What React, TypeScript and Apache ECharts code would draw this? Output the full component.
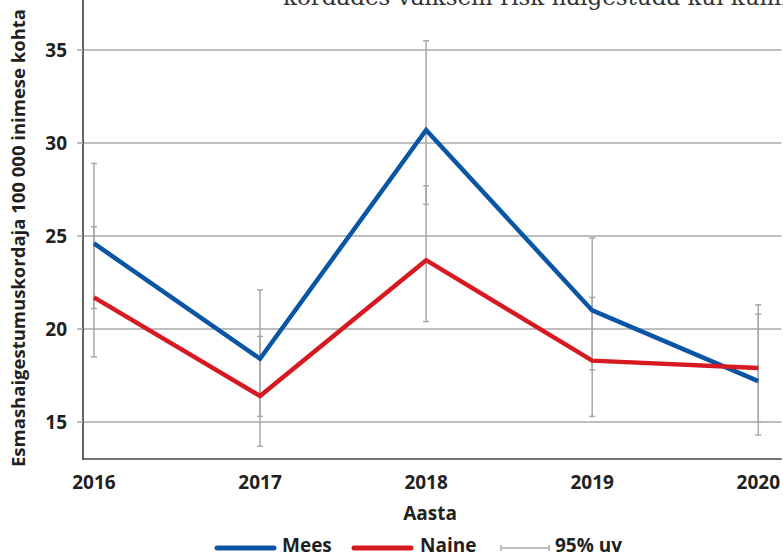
import React, { useEffect, useRef } from "react";
import * as echarts from "echarts";

const years = [2016, 2017, 2018, 2019, 2020];
const meesValues = [24.6, 18.4, 30.7, 21.0, 17.2];
const naineValues = [21.7, 16.4, 23.7, 18.3, 17.9];
const meesLow = [21.1, 15.3, 26.7, 17.8, 14.3];
const meesHigh = [28.9, 22.1, 35.5, 24.9, 20.8];
const naineLow = [18.5, 13.7, 20.4, 15.3, 15.0];
const naineHigh = [25.5, 19.6, 27.7, 21.7, 21.3];
const yTicks = [15, 20, 25, 30, 35];

const BLUE = "#0a56a5";
const RED = "#d71a21";
const GRAY = "#a8a8a8";
const TEXT = "#231f20";
const SANS = "'Open Sans', 'Noto Sans', sans-serif";

export default function App() {
  const ref = useRef<HTMLDivElement>(null);
  useEffect(() => {
    if (!ref.current) return;
    const chart = echarts.init(ref.current, undefined, { renderer: "svg" });
    const errData = years
      .map((y, i) => [y, meesLow[i], meesHigh[i]])
      .concat(years.map((y, i) => [y, naineLow[i], naineHigh[i]]));
    const legendFont = `bold 19px ${SANS}`;
    const option: any = {
      animation: false,
      grid: { left: 83, right: 0, top: 0, bottom: 98.8, containLabel: false },
      xAxis: {
        type: "value",
        min: 2015.934,
        max: 2020.138,
        axisLine: { show: true, lineStyle: { color: "#444", width: 1.5 } },
        axisTick: { show: false },
        splitLine: { show: false },
        axisLabel: {
          customValues: years,
          formatter: (v: number) => String(v),
          color: TEXT,
          fontFamily: SANS,
          fontWeight: "bold",
          fontSize: 19,
          margin: 13,
        },
      },
      yAxis: {
        type: "value",
        min: 13,
        max: 37.69,
        axisLine: { show: true, lineStyle: { color: "#333", width: 1.5 } },
        axisTick: {
          show: true,
          customValues: yTicks,
          length: 6,
          lineStyle: { color: GRAY, width: 1.5 },
        },
        splitLine: { show: true, lineStyle: { color: GRAY, width: 1.5 } },
        axisLabel: {
          customValues: yTicks,
          color: TEXT,
          fontFamily: SANS,
          fontWeight: "bold",
          fontSize: 19,
          margin: 16,
        },
      },
      graphic: [
        {
          type: "text",
          x: 283,
          y: 8,
          style: {
            text: "kordades väiksem risk haigestuda kui kummagi",
            font: "23px 'DejaVu Serif', serif",
            fill: "#333",
            textAlign: "left",
            textVerticalAlign: "bottom",
          },
        },
        {
          type: "text",
          x: 17,
          y: 467,
          rotation: Math.PI / 2,
          style: {
            text: "Esmashaigestumuskordaja 100 000 inimese kohta",
            font: `bold 18.5px ${SANS}`,
            fill: TEXT,
            textAlign: "left",
            textVerticalAlign: "middle",
          },
        },
        {
          type: "text",
          x: 430,
          y: 513,
          style: {
            text: "Aasta",
            font: `bold 19px ${SANS}`,
            fill: TEXT,
            textAlign: "center",
            textVerticalAlign: "middle",
          },
        },
        {
          type: "line",
          shape: { x1: 217, y1: 548, x2: 274, y2: 548 },
          style: { stroke: BLUE, lineWidth: 5, lineCap: "round" },
        },
        {
          type: "text",
          x: 282,
          y: 545,
          style: { text: "Mees", font: legendFont, lineHeight: 16, fill: TEXT, textVerticalAlign: "middle" },
        },
        {
          type: "line",
          shape: { x1: 354, y1: 548, x2: 411, y2: 548 },
          style: { stroke: RED, lineWidth: 5, lineCap: "round" },
        },
        {
          type: "text",
          x: 420,
          y: 545,
          style: { text: "Naine", font: legendFont, lineHeight: 16, fill: TEXT, textVerticalAlign: "middle" },
        },
        {
          type: "group",
          children: [
            { type: "line", shape: { x1: 501, y1: 548, x2: 549, y2: 548 }, style: { stroke: GRAY, lineWidth: 1.5 } },
            { type: "line", shape: { x1: 501, y1: 545, x2: 501, y2: 551 }, style: { stroke: GRAY, lineWidth: 1.5 } },
            { type: "line", shape: { x1: 549, y1: 545, x2: 549, y2: 551 }, style: { stroke: GRAY, lineWidth: 1.5 } },
          ],
        },
        {
          type: "text",
          x: 555,
          y: 545,
          style: { text: "95% uv", font: legendFont, lineHeight: 16, fill: TEXT, textVerticalAlign: "middle" },
        },
      ],
      series: [
        {
          type: "custom",
          name: "95% uv",
          z: 1,
          encode: { x: 0, y: [1, 2] },
          data: errData,
          renderItem: (params: any, api: any) => {
            const x = api.value(0);
            const p1 = api.coord([x, api.value(1)]);
            const p2 = api.coord([x, api.value(2)]);
            const hw = 3;
            const style = { stroke: GRAY, lineWidth: 1.5 };
            return {
              type: "group",
              children: [
                { type: "line", shape: { x1: p1[0], y1: p1[1], x2: p2[0], y2: p2[1] }, style },
                { type: "line", shape: { x1: p1[0] - hw, y1: p1[1], x2: p1[0] + hw, y2: p1[1] }, style },
                { type: "line", shape: { x1: p2[0] - hw, y1: p2[1], x2: p2[0] + hw, y2: p2[1] }, style },
              ],
            };
          },
        },
        {
          type: "line",
          name: "Mees",
          z: 3,
          symbol: "none",
          data: years.map((y, i) => [y, meesValues[i]]),
          lineStyle: { color: BLUE, width: 4.5, join: "miter", cap: "butt" },
          itemStyle: { color: BLUE },
        },
        {
          type: "line",
          name: "Naine",
          z: 4,
          symbol: "none",
          data: years.map((y, i) => [y, naineValues[i]]),
          lineStyle: { color: RED, width: 4.5, join: "miter", cap: "butt" },
          itemStyle: { color: RED },
        },
      ],
    };
    chart.setOption(option);
    return () => chart.dispose();
  }, []);
  return (
    <div
      ref={ref}
      style={{ position: "absolute", left: 0, top: 0, width: 783, height: 558, background: "#fff" }}
    />
  );
}
